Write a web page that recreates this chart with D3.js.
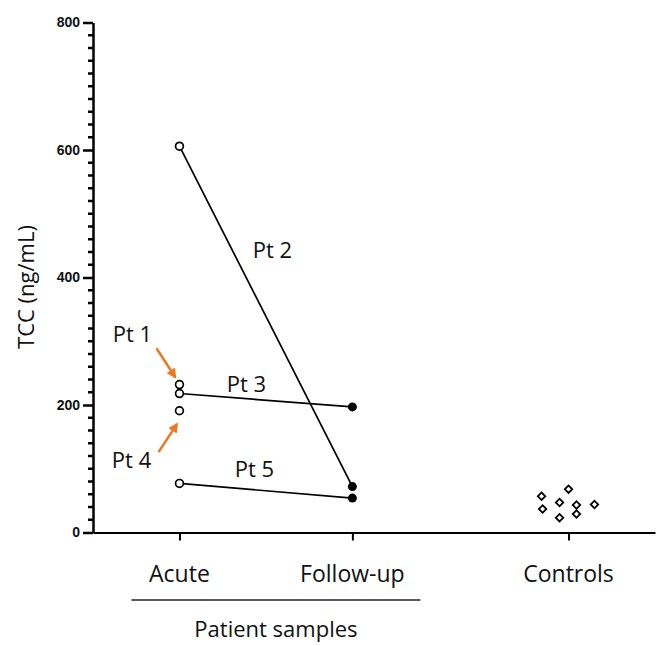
<!DOCTYPE html>
<html><head><meta charset="utf-8">
<script src="https://cdn.jsdelivr.net/npm/d3@7"></script>
<style>body{margin:0;background:#fff}svg{display:block}</style>
</head><body>
<script>
// ---- data ----
const categories = ["Acute", "Follow-up", "Controls"];
const categoryPos = [1, 2, 3.25];
const patients = ["Pt 1", "Pt 2", "Pt 3", "Pt 4", "Pt 5"];
const acuteValues = [232, 606, 218, 191, 77];
const followValues = [null, 72, 197, null, 54];
const controlValues = [57, 37, 68, 47, 23, 43, 29, 44];
const controlJitter = [-0.156, -0.15, 0, -0.052, -0.052, 0.046, 0.046, 0.15];
const yTicks = [0, 200, 400, 600, 800];
const labelText = ["Pt 1", "Pt 2", "Pt 3", "Pt 4", "Pt 5"];
const labelX = [0.728, 1.538, 1.387, 0.723, 1.434];
const labelY = [299, 431, 220, 101, 87];
const arrowFrom = [[0.867, 289], [0.879, 126]];
const arrowTo = [[0.975, 244], [0.985, 170]];
const groupLabel = "Patient samples";
const groupSpan = [0.723, 2.393];
const yTitle = "TCC (ng/mL)";

const W = 658, H = 645;
const svg = d3.select("body").append("svg").attr("width", W).attr("height", H);
const x = d3.scaleLinear().domain([0.5, 3.75]).range([93, 655]);
const y = d3.scaleLinear().domain([0, 800]).range([532.5, 22.5]);
const font = "'Open Sans', sans-serif";

// y axis
const yAxis = d3.axisLeft(y).tickValues(yTicks).tickSize(10).tickPadding(3).tickSizeOuter(0);
const yg = svg.append("g").attr("transform", `translate(${x(0.5)},0)`).call(yAxis);
yg.select(".domain").attr("stroke-width", 2.5);
yg.selectAll(".tick line").attr("stroke-width", 2.5);
yg.selectAll(".tick text").attr("font-family", "'Liberation Sans', Arial, sans-serif")
  .attr("font-weight", "bold").attr("font-size", 14).attr("fill", "#111");
// minor ticks
const minor = d3.range(20, 800, 20).filter(v => v % 200 !== 0);
svg.append("g").selectAll("line").data(minor).join("line")
  .attr("x1", x(0.5) - 5).attr("x2", x(0.5)).attr("y1", d => y(d)).attr("y2", d => y(d))
  .attr("stroke", "#000").attr("stroke-width", 2.5);

// x axis
const xAxis = d3.axisBottom(x).tickValues(categoryPos).tickSize(8).tickFormat("").tickSizeOuter(0);
const xg = svg.append("g").attr("transform", `translate(0,${y(0)})`).call(xAxis);
xg.select(".domain").attr("stroke-width", 2.2);
xg.selectAll(".tick line").attr("stroke-width", 2);
svg.append("g").selectAll("text").data(categories).join("text")
  .attr("x", (d, i) => x(categoryPos[i])).attr("y", 582)
  .attr("text-anchor", "middle").attr("font-family", font).attr("font-size", 23)
  .attr("fill", "#111").text(d => d);

// group bracket
svg.append("line").attr("x1", x(groupSpan[0])).attr("x2", x(groupSpan[1]))
  .attr("y1", 600).attr("y2", 600).attr("stroke", "#222").attr("stroke-width", 1.5);
svg.append("text").attr("x", x((groupSpan[0] + groupSpan[1]) / 2)).attr("y", 637)
  .attr("text-anchor", "middle").attr("font-family", font).attr("font-size", 22)
  .attr("fill", "#111").text(groupLabel);

// y title
svg.append("text").attr("transform", `translate(34,287) rotate(-90)`)
  .attr("text-anchor", "middle").attr("font-family", font).attr("font-size", 22)
  .attr("fill", "#111").text(yTitle);

// patient lines
patients.forEach((p, i) => {
  if (followValues[i] != null) {
    svg.append("line").attr("x1", x(categoryPos[0])).attr("y1", y(acuteValues[i]))
      .attr("x2", x(categoryPos[1])).attr("y2", y(followValues[i]))
      .attr("stroke", "#000").attr("stroke-width", 1.7);
  }
});
// follow-up points
svg.append("g").selectAll("circle").data(followValues.filter(v => v != null)).join("circle")
  .attr("cx", x(categoryPos[1])).attr("cy", d => y(d)).attr("r", 4.5).attr("fill", "#000");
// acute points
svg.append("g").selectAll("circle").data(acuteValues).join("circle")
  .attr("cx", x(categoryPos[0])).attr("cy", d => y(d)).attr("r", 3.9)
  .attr("fill", "#fff").attr("stroke", "#000").attr("stroke-width", 1.7);
// controls
const diamond = d3.symbol().type(d3.symbolSquare).size(28);
svg.append("g").selectAll("path").data(controlValues).join("path")
  .attr("d", diamond)
  .attr("transform", (d, i) => `translate(${x(categoryPos[2] + controlJitter[i])},${y(d)}) rotate(45)`)
  .attr("fill", "#fff").attr("stroke", "#000").attr("stroke-width", 1.8);

// labels
svg.append("g").selectAll("text").data(labelText).join("text")
  .attr("x", (d, i) => x(labelX[i])).attr("y", (d, i) => y(labelY[i]))
  .attr("text-anchor", "middle").attr("font-family", font).attr("font-size", 22)
  .attr("fill", "#111").text(d => d);

// arrows
const defs = svg.append("defs");
defs.append("marker").attr("id", "ah").attr("viewBox", "0 0 10 10").attr("refX", 8).attr("refY", 5)
  .attr("markerWidth", 4).attr("markerHeight", 4).attr("orient", "auto")
  .append("path").attr("d", "M0,0L10,5L0,10z").attr("fill", "#ee7722");
arrowFrom.forEach((f, i) => {
  svg.append("line").attr("x1", x(f[0])).attr("y1", y(f[1]))
    .attr("x2", x(arrowTo[i][0])).attr("y2", y(arrowTo[i][1]))
    .attr("stroke", "#ee7722").attr("stroke-width", 2.5).attr("marker-end", "url(#ah)");
});
</script>
</body></html>
